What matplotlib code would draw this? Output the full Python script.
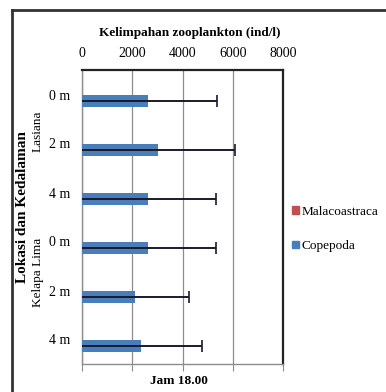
import matplotlib
matplotlib.use("Agg")
import matplotlib.pyplot as plt
from matplotlib.lines import Line2D
from matplotlib.patches import Rectangle
import numpy as np

plt.rcParams['font.family'] = ['Liberation Serif', 'DejaVu Serif']

# Depth categories, top to bottom (Lasiana first, then Kelapa Lima)
depths = ["0 m", "2 m", "4 m", "0 m", "2 m", "4 m"]
sites = ["Lasiana", "Kelapa Lima"]
copepoda = [2620, 3030, 2620, 2620, 2090, 2350]
copepoda_err = [2740, 3060, 2710, 2710, 2160, 2440]
malacoastraca = [0, 0, 0, 0, 0, 0]
xticks = [0, 2000, 4000, 6000, 8000]

W, H = 386, 392
fig = plt.figure(figsize=(W / 100, H / 100), dpi=100)
fig.patch.set_facecolor("white")

def fx(px):
    return px / W

def fy(py):
    return 1 - py / H

ax = fig.add_axes([fx(82), fy(364), fx(283) - fx(82), fy(70) - fy(364)])

y = np.arange(len(depths))
blue = "#4a7ebb"
red = "#c0504d"
ax.barh(y - 0.12, malacoastraca, height=0.25, color=red, label="Malacoastraca", zorder=3)
ax.barh(y + 0.14, copepoda, height=0.25, color=blue, label="Copepoda", zorder=3)
ax.errorbar(copepoda, y + 0.14, xerr=copepoda_err, fmt="none", ecolor="#1a1a2a",
            elinewidth=1.4, capsize=4.5, capthick=1.2, zorder=4)

ax.set_xlim(0, 8000)
ax.set_ylim(len(depths) - 0.5, -0.5)
ax.set_xticks(xticks)
ax.grid(axis="x", color="#8c8c8c", linewidth=0.9, zorder=0)
ax.set_axisbelow(True)

# value labels on top, tick marks only at bottom
ax.tick_params(axis="x", which="both", top=False, labeltop=True, bottom=True,
               labelbottom=False, direction="out", length=5, color="#8c8c8c",
               labelsize=10, pad=2.5)
ax.set_yticks(y)
ax.set_yticklabels(depths, fontsize=10)
ax.tick_params(axis="y", length=0, pad=8.5)

for side in ("top", "right"):
    ax.spines[side].set_color("#222222")
    ax.spines[side].set_linewidth(1.6)
for side in ("left", "bottom"):
    ax.spines[side].set_color("#8c8c8c")
    ax.spines[side].set_linewidth(1.0)

fig.text(fx(190), fy(33), "Kelimpahan zooplankton (ind/l)", ha="center", va="center",
         fontsize=9.5, fontweight="bold")
fig.text(fx(179), fy(381), "Jam 18.00", ha="center", va="center",
         fontsize=9.5, fontweight="bold")
fig.text(fx(23), fy(207), "Lokasi dan Kedalaman", ha="center", va="center",
         rotation=90, fontsize=11, fontweight="bold")
fig.text(fx(38), fy(131), sites[0], ha="center", va="center", rotation=90, fontsize=9.5)
fig.text(fx(38), fy(272), sites[1], ha="center", va="center", rotation=90, fontsize=9.5)

handles = [Rectangle((0, 0), 1, 1, color=red), Rectangle((0, 0), 1, 1, color=blue)]
fig.legend(handles, ["Malacoastraca", "Copepoda"], loc="center left",
           bbox_to_anchor=(fx(287), fy(229)), frameon=False, fontsize=9.5,
           handlelength=0.5, handleheight=0.5, handletextpad=0.2,
           labelspacing=1.7, borderaxespad=0)

# outer chart frame
fig.add_artist(Line2D([fx(12), fx(12)], [fy(10), fy(392)], color="#333333", linewidth=2))
fig.add_artist(Line2D([fx(12), fx(386)], [fy(10), fy(10)], color="#333333", linewidth=2))

fig.savefig("out.png", dpi=100, facecolor="white")
